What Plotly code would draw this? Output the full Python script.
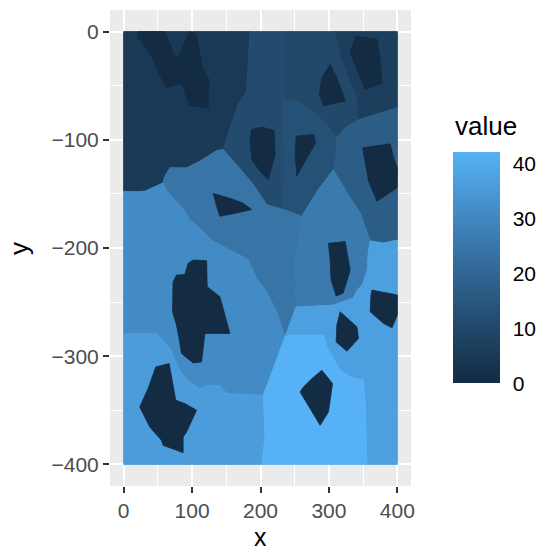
import plotly.graph_objects as go

# ---------------- data ----------------
# region polygons (data units) and their values
region_names = ["A", "B", "C", "D", "E", "F", "G", "H", "I", "L", "J", "M"]
region_values = [5, 11, 10, 7, 13, 17, 24, 26, 31, 36, 37, 42]

A_x = [0, 184.6, 182.1, 179.8, 167.5, 155.3, 145.5, 135.8, 111.4, 91.9, 67.4, 60.1, 57.6, 30.8, 13.6, 0]
A_y = [0, 0, -27.1, -54.9, -67.3, -88.9, -109.0, -109.9, -119.7, -125.9, -125.9, -133.6, -139.8, -147.5, -148.1, -147.5]

B_x = [184.6, 232.5, 233.0, 233.7, 233.4, 209.1, 189.5, 165.1, 145.5, 155.3, 167.5, 179.8, 182.1]
B_y = [0, 0, -63.9, -109.3, -164.5, -159.9, -141.4, -122.9, -109.0, -88.9, -67.3, -54.9, -27.1]

C_x = [232.5, 309.2, 316.5, 328.7, 341.0, 343.3, 323.8, 311.6, 287.2, 257.9, 233.4]
C_y = [0, 0, -19.7, -41.4, -59.9, -81.5, -88.9, -98.1, -79.6, -65.7, -63.0]

D_x = [309.2, 400, 400, 375.1, 353.1, 343.3, 341.0, 328.7, 316.5]
D_y = [0, 0, -70.4, -75.0, -79.6, -81.5, -59.9, -41.4, -19.7]

E_x = [233.4, 257.9, 287.2, 311.6, 310.6, 306.2, 284.2, 260.4, 233.4, 233.7]
E_y = [-63.0, -65.7, -79.6, -98.1, -113.9, -127.8, -146.3, -170.6, -164.5, -109.3]

F_x = [343.3, 375.1, 400, 400, 379.5, 360.4, 345.8, 326.7, 306.2, 310.6, 311.6, 323.8]
F_y = [-81.5, -75.0, -70.4, -192.6, -195.4, -193.5, -167.6, -149.1, -127.8, -113.9, -98.1, -88.9]

G_x = [60.1, 67.4, 91.9, 111.4, 135.8, 145.5, 165.1, 189.5, 209.1, 233.4, 260.4, 250.6, 252.0, 236.0,
       223.7, 209.1, 194.4, 182.1, 170.0, 140.7, 130.4, 111.4, 96.7, 86.4, 71.8, 62.6, 57.6]
G_y = [-133.6, -125.9, -125.9, -119.7, -109.9, -109.0, -122.9, -141.4, -159.9, -164.5, -170.6, -211.1, -254.6, -282.0,
       -259.0, -240.5, -228.1, -211.1, -206.5, -197.2, -193.5, -181.5, -173.8, -163.0, -153.7, -147.2, -139.8]

H_x = [260.4, 284.2, 306.2, 326.7, 345.8, 360.4, 357.5, 356.0, 348.7, 341.4, 335.5, 306.2, 252.0, 250.6]
H_y = [-170.6, -146.3, -127.8, -149.1, -167.6, -193.5, -204.6, -220.4, -234.3, -238.9, -246.3, -252.8, -254.6, -211.1]

I_x = [0, 13.6, 30.8, 57.6, 62.6, 71.8, 86.4, 96.7, 111.4, 130.4, 140.7, 170.0, 182.1, 194.4, 209.1, 223.7,
       236.0, 204.1, 150.5, 140.7, 123.5, 111.4, 99.2, 84.5, 67.4, 47.9, 0]
I_y = [-147.5, -148.1, -147.5, -139.8, -147.2, -153.7, -163.0, -173.8, -181.5, -193.5, -197.2, -206.5, -211.1, -228.1, -240.5, -259.0,
       -282.0, -336.1, -334.5, -326.9, -326.9, -330.0, -325.3, -316.0, -292.9, -279.0, -279.0]

L_x = [0, 47.9, 67.4, 84.5, 99.2, 111.4, 123.5, 140.7, 150.5, 204.1, 206.6, 201.8, 0]
L_y = [-279.0, -279.0, -292.9, -316.0, -325.3, -330.0, -326.9, -326.9, -334.5, -336.1, -374.7, -400, -400]

J_x = [360.4, 379.5, 400, 400, 355.6, 353.1, 350.6, 331.1, 316.5, 297.0, 292.0, 243.2, 236.0, 252.0, 306.2,
       335.5, 341.4, 348.7, 356.0, 357.5]
J_y = [-193.5, -195.4, -192.6, -400, -400, -343.8, -322.2, -319.2, -313.0, -291.4, -280.6, -280.6, -282.0, -254.6, -252.8,
       -246.3, -238.9, -234.3, -220.4, -204.6]

M_x = [236.0, 243.2, 292.0, 297.0, 316.5, 331.1, 350.6, 353.1, 355.6, 201.8, 206.6, 204.1]
M_y = [-282.0, -280.6, -280.6, -291.4, -313.0, -319.2, -322.2, -343.8, -400, -400, -374.7, -336.1]

# dark patches (value 0)
hole_value = 0
H1_x = [21, 60, 77, 97, 106.5, 116, 124.5, 123.5, 96.7, 84.5, 62.6, 52.7, 40.6, 28.3, 19.5]
H1_y = [0, 0, -26, 0, -3, -35, -44, -70.6, -68.5, -47.5, -52, -40, -23, -10.5, -5.8]
H2_x = [331.1, 338.4, 370.3, 375.1, 377.6, 353.1, 343.3]
H2_y = [-19.7, -4.4, -6.8, -25.9, -47.5, -53.7, -38.2]
H3_x = [301.8, 311.6, 323.8, 292.0, 286.2, 289.7]
H3_y = [-30.3, -42.6, -63.9, -68.8, -58.1, -42.6]
H4_x = [187.1, 201.8, 219.8, 221.2, 211.4, 199.3, 187.1, 184.6]
H4_y = [-90.5, -88.2, -91.4, -113.6, -136.8, -129.0, -118.2, -101.2]
H5_x = [252.0, 277.4, 280.9, 267.7, 253.1, 250.6]
H5_y = [-96.6, -95.1, -102.8, -116.7, -133.6, -113.6]
H6_x = [349.2, 389.7, 394.6, 400, 399.6, 370.3, 358.0, 353.1]
H6_y = [-107.4, -103.7, -116.7, -125.9, -144.4, -156.8, -138.2, -119.7]
H7_x = [130.9, 155.3, 174.8, 187.1, 165.1, 140.7, 135.8]
H7_y = [-149.7, -154.0, -158.6, -164.5, -167.6, -170.7, -161.4]
H8_x = [94.2, 101.5, 121.2, 122.1, 140.7, 148.0, 155.3, 118.7, 113.8, 101.5, 84.5, 81.0, 77.2, 71.4, 72.2, 77.2, 89.4]
H8_y = [-214.2, -211.1, -211.8, -235.8, -245.1, -262.0, -279.0, -279.0, -305.3, -306.2, -297.5, -283.6, -271.3, -259.0, -231.2, -225.0, -224.4]
H9_x = [46.9, 66.4, 76.2, 89.4, 106.5, 91.9, 86.9, 86.9, 57.6, 55.2, 38.1, 23.4, 35.6]
H9_y = [-309.9, -306.8, -340.7, -343.8, -350.0, -370.1, -374.7, -389.2, -382.4, -377.8, -365.5, -346.9, -329.9]
H10_x = [299.3, 323.8, 331.1, 320.9, 310.6, 303.2, 301.8]
H10_y = [-195.6, -194.1, -220.4, -241.7, -244.4, -229.6, -211.1]
H11_x = [316.5, 340.9, 343.3, 326.3, 310.6, 311.6]
H11_y = [-259.0, -272.9, -283.6, -295.4, -286.8, -271.3]
H12_x = [362.9, 400, 400, 392.2, 379.9, 360.4, 361.5]
H12_y = [-238.9, -243.5, -262.0, -273.8, -269.7, -259.0, -243.5]
H13_x = [289.7, 305.3, 299.3, 287.2, 257.9, 262.7, 275.0]
H13_y = [-313.0, -325.3, -351.6, -363.9, -333.1, -328.5, -320.8]

x_ticks = [0, 100, 200, 300, 400]
x_ticklabels = ["0", "100", "200", "300", "400"]
y_ticks = [-400, -300, -200, -100, 0]
y_ticklabels = ["\u2212400", "\u2212300", "\u2212200", "\u2212100", "0"]
cbar_ticks = [0, 10, 20, 30, 40]
low_color = "#132B43"
high_color = "#56B1F7"

# ---------------- colour scale (Lab interpolation like ggplot) ----------------
def hex_to_rgb(h):
    h = h.lstrip("#")
    return [int(h[i:i + 2], 16) / 255 for i in (0, 2, 4)]

def srgb_to_lin(c):
    return c / 12.92 if c <= 0.04045 else ((c + 0.055) / 1.055) ** 2.4

def lin_to_srgb(c):
    c = max(0.0, min(1.0, c))
    return 12.92 * c if c <= 0.0031308 else 1.055 * c ** (1 / 2.4) - 0.055

WX, WY, WZ = 0.95047, 1.0, 1.08883

def rgb_to_lab(rgb):
    r, g, b = [srgb_to_lin(c) for c in rgb]
    X = 0.4124564 * r + 0.3575761 * g + 0.1804375 * b
    Y = 0.2126729 * r + 0.7151522 * g + 0.0721750 * b
    Z = 0.0193339 * r + 0.1191920 * g + 0.9503041 * b
    def f(t):
        return t ** (1 / 3) if t > 216 / 24389 else (24389 / 27 * t + 16) / 116
    fx, fy, fz = f(X / WX), f(Y / WY), f(Z / WZ)
    return [116 * fy - 16, 500 * (fx - fy), 200 * (fy - fz)]

def lab_to_rgb(lab):
    L, a, b = lab
    fy = (L + 16) / 116
    fx = fy + a / 500
    fz = fy - b / 200
    def finv(t):
        return t ** 3 if t ** 3 > 216 / 24389 else (116 * t - 16) / (24389 / 27)
    X, Y, Z = WX * finv(fx), WY * finv(fy), WZ * finv(fz)
    r = 3.2404542 * X - 1.5371385 * Y - 0.4985314 * Z
    g = -0.9692660 * X + 1.8760108 * Y + 0.0415560 * Z
    bb = 0.0556434 * X - 0.2040259 * Y + 1.0572252 * Z
    return [lin_to_srgb(c) for c in (r, g, bb)]

lab_lo = rgb_to_lab(hex_to_rgb(low_color))
lab_hi = rgb_to_lab(hex_to_rgb(high_color))

def ramp(t):
    lab = [lo + (hi - lo) * t for lo, hi in zip(lab_lo, lab_hi)]
    r, g, b = lab_to_rgb(lab)
    return "rgb(%d,%d,%d)" % (round(r * 255), round(g * 255), round(b * 255))

vmin = 0
vmax = max(region_values)
colorscale = [[i / 20, ramp(i / 20)] for i in range(21)]

def col(v):
    return ramp((v - vmin) / (vmax - vmin))

# ---------------- figure ----------------
fig = go.Figure()

regions = {
    "A": (A_x, A_y), "B": (B_x, B_y), "C": (C_x, C_y), "D": (D_x, D_y), "E": (E_x, E_y),
    "F": (F_x, F_y), "G": (G_x, G_y), "H": (H_x, H_y), "I": (I_x, I_y), "L": (L_x, L_y),
    "J": (J_x, J_y), "M": (M_x, M_y),
}
for name, val in zip(region_names, region_values):
    xs, ys = regions[name]
    c = col(val)
    fig.add_trace(go.Scatter(x=xs + [xs[0]], y=ys + [ys[0]], mode="lines", fill="toself",
                             fillcolor=c, line=dict(color=c, width=1), hoverinfo="skip"))

holes = [(H1_x, H1_y), (H2_x, H2_y), (H3_x, H3_y), (H4_x, H4_y), (H5_x, H5_y), (H6_x, H6_y),
         (H7_x, H7_y), (H8_x, H8_y), (H9_x, H9_y), (H10_x, H10_y), (H11_x, H11_y),
         (H12_x, H12_y), (H13_x, H13_y)]
hc = col(hole_value)
for xs, ys in holes:
    fig.add_trace(go.Scatter(x=xs + [xs[0]], y=ys + [ys[0]], mode="lines", fill="toself",
                             fillcolor=hc, line=dict(color=hc, width=0.8), hoverinfo="skip"))

# colour bar geometry (plot area fractions)
L_M, R_M, T_M, B_M = 110, 132.4, 10, 64.4
W, Hh = 543, 550
pw = W - L_M - R_M
ph = Hh - T_M - B_M
cb_x = (453 - L_M) / pw
cb_y = (Hh - B_M - 383) / ph
cb_len = 231 / ph
cb_thick = 47

fig.add_trace(go.Scatter(
    x=[None], y=[None], mode="markers", hoverinfo="skip",
    marker=dict(color=[vmin], cmin=vmin, cmax=vmax, colorscale=colorscale, showscale=True,
                colorbar=dict(x=cb_x, xanchor="left", y=cb_y, yanchor="bottom",
                              len=cb_len, lenmode="fraction", thickness=cb_thick,
                              thicknessmode="pixels", xpad=0, ypad=0, outlinewidth=0,
                              ticks="outside", ticklen=9, tickwidth=1, tickcolor="rgba(0,0,0,0)",
                              tickvals=cbar_ticks, ticktext=[str(t) for t in cbar_ticks],
                              tickfont=dict(size=21, color="black"), title=dict(text="")))))

# white ticks on both inner edges of the colour bar
for t in cbar_ticks:
    yy = cb_y + cb_len * (t - vmin) / (vmax - vmin)
    fig.add_shape(type="line", xref="paper", yref="paper", x0=cb_x, x1=cb_x + 6 / pw, y0=yy, y1=yy,
                  line=dict(color="white", width=1.5))
    fig.add_shape(type="line", xref="paper", yref="paper", x0=cb_x + (cb_thick - 6) / pw,
                  x1=cb_x + cb_thick / pw, y0=yy, y1=yy, line=dict(color="white", width=1.5))

font_family = "Liberation Sans, Arial, sans-serif"
fig.add_annotation(text="value", xref="paper", yref="paper", x=cb_x, xanchor="left",
                   y=(Hh - B_M - 126) / ph, yanchor="middle", showarrow=False,
                   font=dict(size=26, color="black", family=font_family))
fig.add_annotation(text="x", xref="paper", yref="paper", x=0.5, xanchor="center",
                   y=(Hh - B_M - 521.5) / ph, yanchor="top", borderpad=0,
                   showarrow=False, font=dict(size=25, color="black", family=font_family))
fig.add_annotation(text="y", xref="paper", yref="paper", x=(19 - L_M) / pw, xanchor="center",
                   y=0.5, yanchor="middle", textangle=-90, showarrow=False,
                   font=dict(size=26, color="black", family=font_family))

axis_common = dict(showgrid=True, gridcolor="white", gridwidth=2, zeroline=False,
                   ticks="outside", ticklen=6, tickwidth=2, tickcolor="#333333",
                   tickfont=dict(size=21, color="#4D4D4D", family=font_family),
                   showline=False)
fig.update_xaxes(range=[-20, 420], tickvals=x_ticks, ticktext=x_ticklabels,
                 minor=dict(tickvals=[50, 150, 250, 350], showgrid=True, gridcolor="white",
                            gridwidth=1, ticks=""), **axis_common)
fig.update_yaxes(range=[-420, 20], tickvals=y_ticks, ticktext=y_ticklabels,
                 minor=dict(tickvals=[-350, -250, -150, -50], showgrid=True, gridcolor="white",
                            gridwidth=1, ticks=""), **axis_common)

fig.update_layout(width=W, height=Hh,
                  margin=dict(l=L_M, r=R_M, t=T_M, b=B_M, pad=0, autoexpand=False),
                  plot_bgcolor="#EBEBEB", paper_bgcolor="white", showlegend=False,
                  font=dict(family=font_family))

fig.write_html("out.html", config={"displayModeBar": False},
               post_script="document.body.style.margin='0';document.body.style.overflow='hidden';")
